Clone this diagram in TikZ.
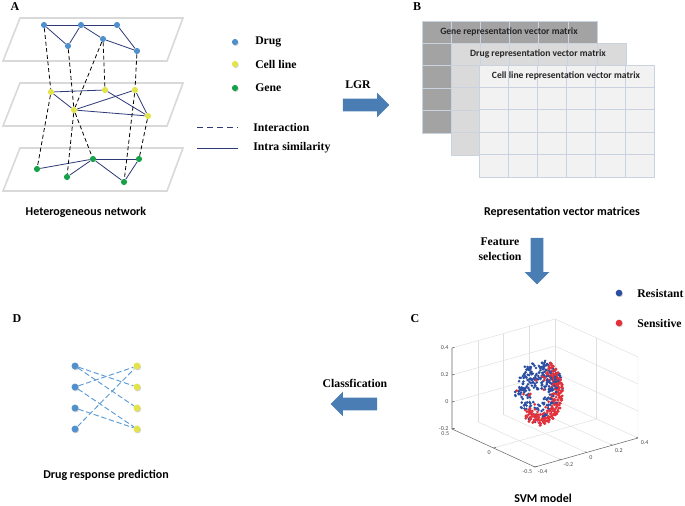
\documentclass[tikz,border=0pt]{standalone}
\usepackage{fontspec}
\setmainfont{Liberation Serif}
\setsansfont{Carlito}
\usetikzlibrary{shapes.arrows}
\usetikzlibrary{shadows}

\definecolor{drugblue}{HTML}{5091CD}
\definecolor{cellyellow}{HTML}{E3E44A}
\definecolor{genegreen}{HTML}{17A24A}
\definecolor{navy}{HTML}{2E3A78}
\definecolor{planegray}{HTML}{D9D9D9}
\definecolor{arrowblue}{HTML}{4A7DB3}
\definecolor{resblue}{HTML}{2B4EA2}
\definecolor{sensred}{HTML}{E2313B}
\definecolor{mgene}{HTML}{A3A3A3}
\definecolor{mdrug}{HTML}{DADADA}
\definecolor{mcell}{HTML}{F2F2F2}
\definecolor{gridline}{HTML}{C9D3E0}
\definecolor{predline}{HTML}{5B9BD5}

\begin{document}
\begin{tikzpicture}[x=0.75pt, y=-0.75pt,
  lab/.style={font=\fontsize{8.8}{10}\selectfont\bfseries, inner sep=0pt},
  captext/.style={font=\fontsize{9}{10}\selectfont\sffamily\bfseries, inner sep=0pt},
  panel/.style={font=\fontsize{9}{10}\selectfont\bfseries, inner sep=0pt},
  mattitle/.style={font=\fontsize{7.2}{8}\selectfont\sffamily\bfseries, text=black!85, inner sep=0pt},
  ticklab/.style={font=\fontsize{4.5}{5}\selectfont\sffamily, text=black!70, inner sep=0pt},
  dot/.style={circle, inner sep=0pt, minimum size=4.6pt},
  dotshadow/.style={drop shadow={shadow xshift=0.5pt, shadow yshift=-0.7pt, opacity=0.3, fill=black!60}},
  drugnode/.style={dot, fill=drugblue},
  cellnode/.style={dot, fill=cellyellow},
  genenode/.style={dot, fill=genegreen},
  intra/.style={navy, line width=0.6pt},
  inter/.style={black, line width=0.6pt, dash pattern=on 3pt off 2pt},
  predict/.style={predline, line width=0.7pt, dash pattern=on 4pt off 2pt},
  bigarrow/.style={single arrow, fill=arrowblue, minimum height=35pt, minimum width=18pt,
    single arrow head extend=4.5pt, inner sep=4.5pt}]
\useasboundingbox (0,0) rectangle (685,506);

% ---- A: heterogeneous network
\node[panel] (pa) at (15,7) {A};
\foreach \py in {18,83,148}
  \draw[planegray, line width=1.2pt, fill=white] (20,\py) -- (183,\py) -- (167,\py+43) -- (3,\py+43) -- cycle;

\node[drugnode] (d1) at (44,25) {};
\node[drugnode] (d2) at (81,25) {};
\node[drugnode] (d3) at (117,25) {};
\node[drugnode] (d4) at (68,46) {};
\node[drugnode] (d5) at (103,39) {};
\node[drugnode] (d6) at (137,51) {};
\node[cellnode] (c1) at (51,92) {};
\node[cellnode] (c2) at (105,90) {};
\node[cellnode] (c3) at (135,90) {};
\node[cellnode] (c4) at (74,110) {};
\node[cellnode] (c5) at (148,116) {};
\node[genenode] (g1) at (37,169) {};
\node[genenode] (g2) at (67,177) {};
\node[genenode] (g3) at (93,159) {};
\node[genenode] (g4) at (124,182) {};
\node[genenode] (g5) at (139,159) {};

\foreach \u/\v in {d1/d2,d2/d3,d1/d4,d4/d2,d2/d5,d5/d6,d3/d6,
                   c1/c2,c1/c4,c4/c3,c4/c5,c2/c5,c3/c5,
                   g1/g3,g2/g3,g3/g5,g3/g4,g4/g5}
  \draw[intra] (\u) -- (\v);
\foreach \u/\v in {d1/c1,d4/c4,d5/c4,d5/c2,d6/c3,c1/g1,c4/g2,c4/g3,c3/g4,c5/g5}
  \draw[inter] (\u) -- (\v);

% legend
\node[drugnode, dotshadow] (ldrug) at (235,42) {};
\node[cellnode, dotshadow] (lcell) at (235,64) {};
\node[genenode, dotshadow] (lgene) at (235,88) {};
\node[lab, anchor=west] (tdrug) at (255,42) {Drug};
\node[lab, anchor=west] (tcell) at (255,64) {Cell line};
\node[lab, anchor=west] (tgene) at (255,88) {Gene};
\coordinate (ia) at (197,127);
\coordinate (ib) at (238,127);
\coordinate (sa) at (197,148);
\coordinate (sb) at (238,148);
\draw[navy, line width=0.6pt, dash pattern=on 4.5pt off 3pt] (ia) -- (ib);
\draw[intra] (sa) -- (sb);
\node[lab, anchor=west] (tinter) at (253,127) {Interaction};
\node[lab, anchor=west] (tintra) at (253,148) {Intra similarity};
\node[captext] (ta) at (86,212) {Heterogeneous network};

% LGR
\node[lab] (tlgr) at (358,85) {LGR};
\node[bigarrow] (lgr) at (363,105) {};

% ---- B: representation matrices
\node[panel] (pb) at (417,7) {B};
\foreach \mx/\my/\mcol/\mtitle [count=\k] in {422/21/mgene/Gene representation vector matrix,
    451/43/mdrug/Drug representation vector matrix,
    479/65/mcell/Cell line representation vector matrix} {
  \fill[\mcol] (\mx,\my) rectangle ++(175,112);
  \foreach \j in {1,...,5} \draw[gridline, line width=0.5pt] (\mx+29.17*\j,\my) -- ++(0,112);
  \foreach \j in {1,...,4} \draw[gridline, line width=0.5pt] (\mx,\my+22.4*\j) -- ++(175,0);
  \draw[gridline, line width=0.5pt] (\mx,\my) rectangle ++(175,112);
  \node[mattitle] (mat\k) at (\mx+87,\my+11) {\mtitle};
}
\node[captext] (tb) at (562,212) {Representation vector matrices};

% feature selection
\node[lab, align=center] (tfeat) at (500,249) {Feature\\[1pt]selection};
\node[bigarrow, rotate=-90] (feat) at (537,258) {};

% ---- C: SVM model
\node[panel] (pc) at (415,319) {C};
\node[circle, inner sep=0pt, minimum size=5pt, fill=resblue, dotshadow] (lres) at (619,293) {};
\node[circle, inner sep=0pt, minimum size=5pt, fill=sensred, dotshadow] (lsen) at (619,323) {};
\node[lab, anchor=west] (tres) at (637,293) {Resistant};
\node[lab, anchor=west] (tsen) at (637,323) {Sensitive};

\begin{scope}[shift={(545,406.5)}]
\begin{scope}[x={(-62.25pt,28.5pt)}, y={(96.56pt,27.19pt)}, z={(0pt,101.25pt)},
  plotgrid/.style={draw=black!13, line width=0.35pt},
  plotaxis/.style={draw=black!60, line width=0.4pt}]
  \foreach \b in {-0.2,0,0.2} {
    \draw[plotgrid] (0.5,\b,-0.2) -- (0.5,\b,0.4);
    \draw[plotgrid] (0.5,\b,-0.2) -- (-0.5,\b,-0.2);
  }
  \foreach \c in {0,0.2} \draw[plotgrid] (0.5,-0.4,\c) -- (0.5,0.4,\c) -- (-0.5,0.4,\c);
  \draw[plotgrid] (0.5,-0.4,0.4) -- (0.5,0.4,0.4) -- (-0.5,0.4,0.4) -- (-0.5,0.4,-0.2);
  \draw[plotgrid] (0.5,0.4,-0.2) -- (0.5,0.4,0.4);
  \draw[plotgrid] (0,0.4,-0.2) -- (0,0.4,0.4);
  \draw[plotgrid] (0,-0.4,-0.2) -- (0,0.4,-0.2);
  \draw[plotgrid] (0.5,0.4,-0.2) -- (-0.5,0.4,-0.2);
  \draw[plotaxis] (0.5,-0.4,0.4) -- (0.5,-0.4,-0.2) -- (-0.5,-0.4,-0.2) -- (-0.5,0.4,-0.2);
  \foreach \c/\t [count=\k] in {-0.2/-0.2,0/0,0.2/0.2,0.4/0.4} {
    \draw[plotaxis] (0.5,-0.4,\c) -- (0.5,-0.38,\c);
    \node[ticklab, anchor=east] (zt\k) at (0.5,-0.4,\c) [xshift=-2.5pt] {\t};
  }
  \foreach \a/\t [count=\k] in {0.5/0.5,0/0,-0.5/-0.5} {
    \draw[plotaxis] (\a,-0.4,-0.2) -- (\a,-0.38,-0.2);
    \node[ticklab, anchor=north east] (xt\k) at (\a,-0.4,-0.2) [xshift=-2pt, yshift=-2pt] {\t};
  }
  \foreach \b/\t [count=\k] in {-0.4/-0.4,-0.2/-0.2,0/0,0.2/0.2,0.4/0.4} {
    \draw[plotaxis] (-0.5,\b,-0.2) -- (-0.48,\b,-0.2);
    \node[ticklab, anchor=north west] (yt\k) at (-0.5,\b,-0.2) [xshift=2pt, yshift=-2pt] {\t};
  }
\end{scope}
\end{scope}

% scatter of cell lines
\pgfmathsetseed{11}
\foreach \i in {1,...,170} {% resistant, upper cap
  \pgfmathsetmacro\t{175+190*rnd}
  \pgfmathsetmacro\r{sqrt(rnd)}
  \fill[resblue] ({540+23*\r*cos(\t)},{389+30*\r*sin(\t)}) circle (1.45);
}
\foreach \i in {1,...,55} {% resistant, lower left
  \pgfmathsetmacro\t{90+95*rnd}
  \pgfmathsetmacro\r{0.45+0.55*rnd}
  \fill[resblue] ({540+25*\r*cos(\t)},{390+33*\r*sin(\t)}) circle (1.45);
}
\foreach \i in {1,...,210} {% sensitive, right band
  \pgfmathsetmacro\t{-65+140*rnd}
  \pgfmathsetmacro\r{0.45+0.55*sqrt(rnd)}
  \fill[sensred] ({540+23*\r*cos(\t)},{392+33*\r*sin(\t)}) circle (1.45);
}
\foreach \i in {1,...,70} {% sensitive, bottom
  \pgfmathsetmacro\t{75+60*rnd}
  \pgfmathsetmacro\r{0.65+0.35*rnd}
  \fill[sensred] ({540+23*\r*cos(\t)},{392+34*\r*sin(\t)}) circle (1.45);
}
\foreach \i in {1,...,20} {% sensitive, scattered
  \pgfmathsetmacro\t{360*rnd}
  \pgfmathsetmacro\r{0.3+0.7*rnd}
  \fill[sensred] ({538+22*\r*cos(\t)},{395+30*\r*sin(\t)}) circle (1.45);
}
\foreach \i in {1,...,55} {% resistant mixed in
  \pgfmathsetmacro\t{-60+150*rnd}
  \pgfmathsetmacro\r{0.3+0.6*rnd}
  \fill[resblue] ({541+21*\r*cos(\t)},{390+30*\r*sin(\t)}) circle (1.45);
}
\node[captext] (tc) at (543,498) {SVM model};

% classification
\node[lab] (tclass) at (355,383) {Classfication};
\node[bigarrow, rotate=180] (cls) at (357,404) {};

% ---- D: prediction
\node[panel] (pd) at (17,319) {D};
\foreach \i [evaluate=\i as \yy using 345+21*\i] in {1,...,4} {
  \node[drugnode, minimum size=5.2pt, dotshadow] (b\i) at (75,\yy) {};
  \node[cellnode, minimum size=5.2pt, dotshadow] (y\i) at (137,\yy) {};
}
\foreach \u/\v in {b1/y2,b1/y3,b2/y1,b2/y4,b3/y4,b4/y1}
  \draw[predict] (\u) -- (\v);
\node[captext] (td) at (106,475) {Drug response prediction};
\end{tikzpicture}
\end{document}
